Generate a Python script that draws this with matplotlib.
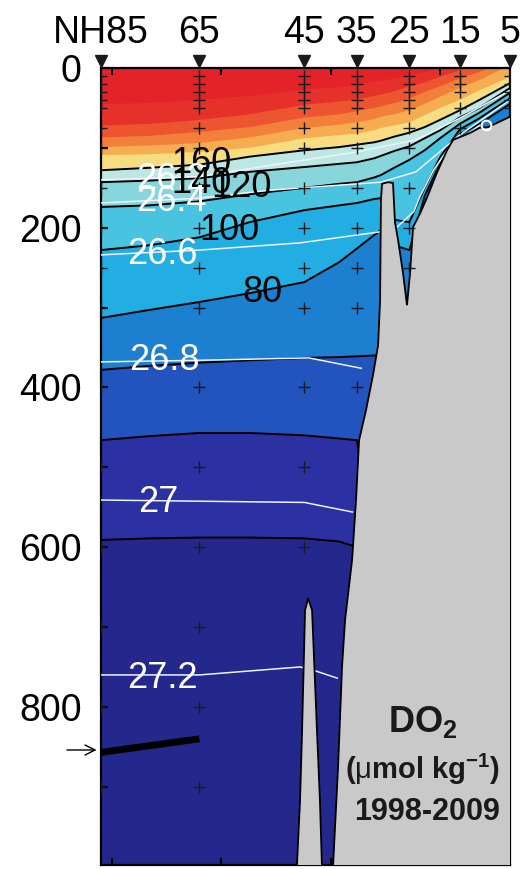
import matplotlib.pyplot as plt
import matplotlib.transforms as mtransforms

plt.rcParams['font.family'] = ['Liberation Sans', 'DejaVu Sans']
plt.rcParams['mathtext.fontset'] = 'custom'
plt.rcParams['mathtext.rm'] = 'Liberation Sans'
plt.rcParams['mathtext.bf'] = 'Liberation Sans:bold'

# stations on the Newport line (longitude, deg E) and their bottle depths (m)
stations = ['NH85', '65', '45', '35', '25', '15', '5']
station_lon = [-126.05, -125.60, -125.12, -124.88, -124.64, -124.41, -124.18]
station_samples = [
    [10, 20, 30, 40, 50, 75, 100, 150, 200, 250, 300, 400, 500, 600, 700, 800, 900],
    [10, 20, 30, 40, 50, 75, 100, 150, 200, 250, 300, 400, 500, 600, 700, 800, 900],
    [10, 20, 30, 40, 50, 75, 100, 150, 200, 250, 300, 400, 500, 600],
    [10, 20, 30, 40, 50, 75, 100, 150, 200, 250, 300, 400],
    [10, 20, 30, 40, 50, 75, 100, 150, 200, 250],
    [10, 20, 30, 50, 75],
    [10, 20, 30, 40, 50],
]

# depth (m) of the DO2 isolines (umol/kg) along the section
iso_lon = [-126.05, -125.83, -125.60, -125.37, -125.12, -124.96, -124.88, -124.80,
           -124.77, -124.71, -124.64, -124.57, -124.50, -124.41, -124.32, -124.18]
do_levels = [260, 240, 220, 200, 180, 160, 140, 120, 100, 80, 60, 40, 20]
do_260 = [45, 44, 40, 35, 27, 24, 20, 17, 16, 13, 9, 5, 0, -8, -13, -23]
do_240 = [72, 70, 65, 58, 46, 42, 39, 35, 33, 29, 23, 18, 11, 3, -4, -16]
do_220 = [87, 85, 80, 74, 62, 58, 54, 50, 48, 44, 38, 30, 23, 13, 5, -10]
do_200 = [99, 97, 94, 87, 75, 71, 68, 64, 61, 58, 53, 45, 36, 25, 15, -3]
do_180 = [109, 108, 105, 100, 88, 84, 82, 78, 75, 72, 68, 59, 50, 40, 28, 11]
do_160 = [128, 125, 121, 111, 103, 99, 96, 93, 91, 86, 81, 74, 65, 53, 40, 19]
do_140 = [143, 141, 138, 130, 124, 120, 118, 113, 110, 104, 98, 88, 78, 62, 50, 25]
do_120 = [174, 172, 167, 158, 150, 145, 143, 137, 134, 125, 115, 103, 88, 70, 56, 31]
do_100 = [228, 222, 212, 193, 178, 172, 169, 164, 163, 190, 193, 150, 112, 77, 63, 38]
do_80 = [313, 303, 293, 282, 268, 243, 226, 209, 203, 222, 228, 160, 120, 83, 70, 45]
do_60 = [378, 373, 369, 366, 363, 362, 361, 360, 360, 416, 416, 416, 416, 416, 416, 416]
do_40 = [466, 461, 457, 457, 460, 464, 466, 600, 600, 600, 600, 600, 600, 600, 600, 600]
do_20 = [591, 589, 588, 588, 589, 593, 600, 700, 700, 700, 700, 700, 700, 700, 700, 700]
do_depths = [do_260, do_240, do_220, do_200, do_180, do_160, do_140,
             do_120, do_100, do_80, do_60, do_40, do_20]

# potential density isopycnals (sigma-theta)
sig_262_lon = [-126.05, -125.60, -125.28, -124.88, -124.61, -124.41, -124.18]
sig_262_dep = [140, 136, 122, 105, 90, 63, 28]
sig_264_lon = [-126.05, -125.60, -125.28, -124.77, -124.61, -124.41, -124.18]
sig_264_dep = [169, 163, 153, 143, 130, 84, 40]
sig_266_lon = [-126.05, -125.60, -125.14, -124.77]
sig_266_dep = [234, 228, 219, 205]
sig_266_slope_lon = [-124.70, -124.62, -124.59, -124.53, -124.46, -124.32]
sig_266_slope_dep = [200, 180, 160, 128, 100, 72]
sig_268_lon = [-126.05, -125.60, -125.10, -124.86]
sig_268_dep = [368, 366, 363, 376]
sig_270_lon = [-126.05, -125.12, -124.90]
sig_270_dep = [541, 544, 556]
sig_272_lon = [-126.05, -125.60, -125.14, -125.08, -124.97]
sig_272_dep = [760, 760, 750, 754, 764]

# bottom topography
bathy_lon = [-124.10, -124.18, -124.28, -124.32, -124.36, -124.44, -124.468, -124.514,
             -124.559, -124.591, -124.623, -124.637, -124.651, -124.669, -124.692,
             -124.706, -124.715, -124.738, -124.765, -124.770, -124.774, -124.783,
             -124.806, -124.838, -124.870, -124.884, -124.902, -124.934, -124.948,
             -124.966, -124.989, -124.995, -124.10]
bathy_dep = [61, 61, 74, 75, 81, 90, 103, 131, 162, 182, 199, 257, 297, 257, 215,
             193, 144, 143, 145, 165, 291, 347, 384, 428, 466, 541, 616, 691, 750,
             875, 999, 1100, 1100]
spike_lon = [-125.156, -125.154, -125.140, -125.131, -125.117, -125.103, -125.085,
             -125.062, -125.049, -125.040, -125.038]
spike_dep = [1100, 998, 917, 833, 679, 664, 679, 833, 917, 998, 1100]

# depth change marker
bar_lon = [-126.05, -125.60]
bar_dep = [857, 840]

band_colors = ['#e6312b', '#ec5530', '#f2803a', '#f6ac50', '#f8dc80', '#bce7e2',
               '#86d6db', '#48c3e0', '#22aee3', '#1c7fcf', '#2353bd', '#2b30a3', '#24288c']

fig = plt.figure(figsize=(5.24, 8.69), dpi=100)
ax = fig.add_axes([101/524, 4/869, 409/524, 797/869])
ax.set_facecolor('#e32327')

# filled bands: each level paints everything below it
for dep, col in zip(do_depths, band_colors):
    ax.fill_between(iso_lon, dep, 1100, color=col, lw=0, zorder=1)
for lev, dep in zip(do_levels, do_depths):
    if lev <= 160:
        ax.plot(iso_lon, dep, color='k', lw=1.4, zorder=2)

wcol = '#eef2fb'
for lx, ly in [(sig_262_lon, sig_262_dep), (sig_264_lon, sig_264_dep),
               (sig_266_lon, sig_266_dep), (sig_266_slope_lon, sig_266_slope_dep),
               (sig_268_lon, sig_268_dep), (sig_270_lon, sig_270_dep),
               (sig_272_lon, sig_272_dep)]:
    ax.plot(lx, ly, color=wcol, lw=1.1, zorder=3)
ax.plot(-124.29, 72, 'o', mfc='none', mec='white', ms=7, mew=1.5, zorder=5)

ax.fill(bathy_lon, bathy_dep, facecolor='#c9c9c9', edgecolor='k', lw=1.3, zorder=4)
ax.fill(spike_lon, spike_dep, facecolor='#c9c9c9', edgecolor='k', lw=1.3, zorder=4)

for lon, deps in zip(station_lon, station_samples):
    ax.plot([lon]*len(deps), deps, '+', color='#1a1a1a', ms=9, mew=1.0, zorder=5)

ax.plot(bar_lon, bar_dep, color='k', lw=5, solid_capstyle='butt', zorder=6)

# contour labels
fs = 26
for txt, x, y, c in [('160', -125.59, 120, 'k'), ('26.2', -125.73, 139, 'white'),
                     ('140', -125.59, 145, 'k'), ('120', -125.41, 150, 'k'),
                     ('26.4', -125.73, 167, 'white'), ('100', -125.465, 203, 'k'),
                     ('26.6', -125.77, 234, 'white'), ('80', -125.31, 281, 'k'),
                     ('26.8', -125.76, 366, 'white'), ('27', -125.79, 544, 'white'),
                     ('27.2', -125.77, 764, 'white')]:
    ax.text(x, y, txt, color=c, fontsize=fs, ha='center', va='center', zorder=7)

ax.text(0.787, 0.18, r'DO$_\mathbf{2}$', transform=ax.transAxes, fontsize=26,
        fontweight='bold', ha='center', va='center', color='#1a1a1a', zorder=7)
ax.text(0.787, 0.12, r'($\mathrm{\mu}$mol kg$^{\mathbf{-1}}$)', transform=ax.transAxes,
        fontsize=21, fontweight='bold', ha='center', va='center', color='#1a1a1a', zorder=7)
ax.text(0.797, 0.067, '1998-2009', transform=ax.transAxes, fontsize=22,
        fontweight='bold', ha='center', va='center', color='#1a1a1a', zorder=7)

ax.set_xlim(-126.05, -124.18)
ax.set_ylim(998, 0)

# station markers on top
trans = mtransforms.blended_transform_factory(ax.transData, ax.transAxes)
ax.plot(station_lon, [1.0088]*len(station_lon), 'v', color='#1a1a1a', ms=8,
        transform=trans, clip_on=False, zorder=8)
for name, lon in zip(stations, station_lon):
    ax.text(lon, 1.031, name, transform=trans, fontsize=27, ha='center', va='baseline')

ax.annotate('', xy=(-0.004, 854), xytext=(-0.09, 854),
            xycoords=('axes fraction', 'data'), textcoords=('axes fraction', 'data'),
            arrowprops=dict(arrowstyle='->', lw=1.0, mutation_scale=18), annotation_clip=False)

ax.set_yticks(range(0, 1000, 100))
ax.set_yticklabels(['0', '', '200', '', '400', '', '600', '', '800', ''])
ax.set_xticks([-126.0, -125.5, -125.0, -124.5])
ax.set_xticklabels([])
ax.tick_params(axis='both', direction='in', length=5, width=1.5, top=True, right=True,
               labelsize=27, pad=14)
for s in ax.spines.values():
    s.set_linewidth(1.6)

plt.savefig('out.png', dpi=100)
